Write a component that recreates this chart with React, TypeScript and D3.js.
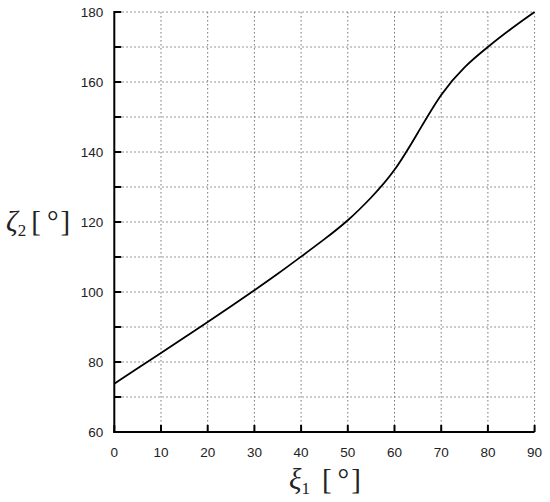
import React from "react";
import * as d3 from "d3";

const xiValues = [0, 5, 10, 15, 20, 25, 30, 35, 40, 45, 50, 55, 60, 65, 70, 75, 80, 85, 90];
const zetaValues = [73.8, 78.2, 82.6, 87.0, 91.4, 95.9, 100.5, 105.2, 110.1, 115.1, 120.5, 127.0, 134.9, 145.5, 156.3, 164.2, 170.0, 175.2, 180.0];
const xTicks = [0, 10, 20, 30, 40, 50, 60, 70, 80, 90];
const yTicks = [60, 70, 80, 90, 100, 110, 120, 130, 140, 150, 160, 170, 180];
const yLabelTicks = [60, 80, 100, 120, 140, 160, 180];

export default function App() {
  const W = 550, H = 502;
  const left = 114.3, right = 534.6, top = 12, bottom = 432;
  const x = d3.scaleLinear().domain([0, 90]).range([left, right]);
  const y = d3.scaleLinear().domain([60, 180]).range([bottom, top]);
  const pts: [number, number][] = xiValues.map((v, i) => [v, zetaValues[i]]);
  const line = d3.line<[number, number]>()
    .x(d => x(d[0]))
    .y(d => y(d[1]))
    .curve(d3.curveNatural);
  const tickFont = "'Liberation Sans', Arial, sans-serif";
  const labelFont = "'Liberation Serif', 'Times New Roman', serif";
  return (
    <svg width={W} height={H} style={{ position: "absolute", left: 0, top: 0, background: "#fff" }}>
      {xTicks.filter(t => t > 0).map(t => (
        <line key={"gx" + t} x1={x(t)} x2={x(t)} y1={top} y2={bottom} stroke="#777" strokeWidth={1} strokeDasharray="1.5,2.5" />
      ))}
      {yTicks.filter(t => t > 60).map(t => (
        <line key={"gy" + t} x1={left} x2={right} y1={y(t)} y2={y(t)} stroke="#777" strokeWidth={1} strokeDasharray="1.5,2.5" />
      ))}
      <path d={line(pts) || ""} fill="none" stroke="#000" strokeWidth={1.8} />
      <line x1={left} x2={left} y1={top - 1} y2={bottom + 1} stroke="#000" strokeWidth={2} />
      <line x1={left - 1} x2={right} y1={bottom} y2={bottom} stroke="#000" strokeWidth={2} />
      {yTicks.map(t => (
        <line key={"ty" + t} x1={left} x2={left + 7} y1={y(t)} y2={y(t)} stroke="#000" strokeWidth={2} />
      ))}
      {xTicks.map(t => (
        <line key={"tx" + t} x1={x(t)} x2={x(t)} y1={bottom} y2={bottom - 7} stroke="#000" strokeWidth={2} />
      ))}
      {yLabelTicks.map(t => (
        <text key={"ly" + t} x={left - 11} y={y(t) + 5} textAnchor="end" fontFamily={tickFont} fontSize={13.5} fill="#222">{t}</text>
      ))}
      {xTicks.map(t => (
        <text key={"lx" + t} x={x(t)} y={bottom + 25} textAnchor="middle" fontFamily={tickFont} fontSize={13.5} fill="#222">{t}</text>
      ))}
      <text x={6} y={231} fontFamily={labelFont} fontSize={29} fill="#222">
        <tspan fontStyle="italic">ζ</tspan>
        <tspan fontSize={17} dy={5}>2</tspan>
        <tspan dy={-5} dx={5}>[</tspan>
        <tspan dx={6}>°</tspan>
        <tspan dx={2}>]</tspan>
      </text>
      <text x={289} y={489} fontFamily={labelFont} fontSize={29} fill="#222">
        <tspan fontStyle="italic">ξ</tspan>
        <tspan fontSize={17} dy={5}>1</tspan>
        <tspan dy={-5} dx={12}>[</tspan>
        <tspan dx={6}>°</tspan>
        <tspan dx={2}>]</tspan>
      </text>
    </svg>
  );
}
